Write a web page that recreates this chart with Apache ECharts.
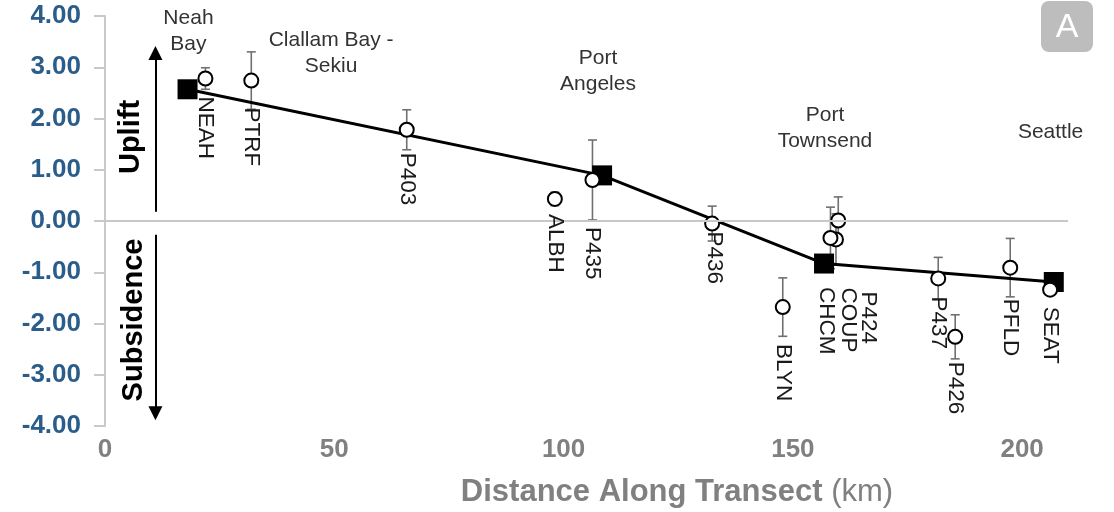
<!DOCTYPE html>
<html>
<head>
<meta charset="utf-8">
<script src="https://cdn.jsdelivr.net/npm/echarts@6.0.0/dist/echarts.min.js"></script>
<style>
  html, body { margin: 0; padding: 0; background: #fff; }
  #chart { width: 1114px; height: 512px; }
</style>
</head>
<body>
<div id="chart"></div>
<script>
// GPS stations: distance along the transect (km), vertical rate (mm/yr) and its error
const stationNames = ['NEAH', 'PTRF', 'P403', 'ALBH', 'P435', 'P436', 'BLYN', 'P424', 'COUP', 'CHCM', 'P437', 'P426', 'PFLD', 'SEAT'];
const stationKm    = [21.9, 31.9, 65.8, 98.1, 106.3, 132.4, 147.8, 159.9, 159.4, 158.2, 181.7, 185.4, 197.4, 206.1];
const stationRate  = [2.78, 2.74, 1.78, 0.43, 0.80, -0.05, -1.68, 0.01, -0.36, -0.33, -1.12, -2.26, -0.91, -1.34];
const stationErr   = [0.21, 0.56, 0.39, 0.13, 0.78, 0.34, 0.57, 0.46, 0.50, 0.60, 0.41, 0.43, 0.57, 0.10];

// Town averages joined by the profile line
const townNames = ['Neah Bay', 'Port Angeles', 'Port Townsend', 'Seattle'];
const townKm    = [18.0, 108.4, 156.8, 206.9];
const townRate  = [2.57, 0.89, -0.83, -1.19];

// Place names written above the profile
const placeNames = ['Neah\nBay', 'Clallam Bay -\nSekiu', 'Port\nAngeles', 'Port\nTownsend', 'Seattle'];
const placeKm    = [18.2, 49.3, 107.5, 157.0, 206.2];

// Axis ticks
const xTicks = [0, 50, 100, 150, 200];
const yTicks = [-4, -3, -2, -1, 0, 1, 2, 3, 4];

// ---- layout (pixels / label anchors) ----
const placeLevel = [3.70, 3.28, 2.93, 1.82, 1.74];       // vertical centre of each place name, in axis units
const stationLabelShift = [                              // [dx, dy] from marker centre to label start
  [0, 18], [0, 27], [0, 23], [0, 15], [0, 47], [2, 8], [0, 37],
  [30, 71], [12, 48], [-4, 49], [0, 18], [0, 25], [0, 31], [0, 17]
];
const FONT = '"Liberation Sans", Arial, Helvetica, sans-serif';

const chart = echarts.init(document.getElementById('chart'), null, { renderer: 'canvas' });

const stationData = stationKm.map((k, i) => [k, stationRate[i], stationErr[i], i]);
const townData = townKm.map((k, i) => [k, townRate[i]]);
const placeData = placeKm.map((k, i) => [k, placeLevel[i], i]);

chart.setOption({
  animation: false,
  backgroundColor: '#ffffff',
  grid: { left: 105, right: 46, top: 16, bottom: 86, outerBoundsMode: 'none' },
  xAxis: {
    type: 'value',
    min: xTicks[0],
    max: 210,
    interval: 50,
    axisLine: { show: false, onZero: false },
    axisTick: { show: false },
    splitLine: { show: false },
    axisLabel: {
      showMaxLabel: false,
      margin: 11,
      color: '#808080',
      fontFamily: FONT,
      fontWeight: 'bold',
      fontSize: 26,
      formatter: v => (xTicks.indexOf(v) >= 0 ? String(v) : '')
    }
  },
  yAxis: {
    type: 'value',
    min: yTicks[0],
    max: yTicks[yTicks.length - 1],
    interval: 1,
    axisLine: { show: true, onZero: false, lineStyle: { color: '#c9c9c9', width: 2 } },
    axisTick: { show: true, length: 11, lineStyle: { color: '#c9c9c9', width: 2 } },
    splitLine: { show: false },
    axisLabel: {
      margin: 24,
      color: '#2b5d8b',
      fontFamily: FONT,
      fontWeight: 'bold',
      fontSize: 26,
      formatter: v => v.toFixed(2)
    }
  },
  graphic: [
    {
      type: 'text', x: 131, y: 137, rotation: Math.PI / 2,
      style: { text: 'Uplift', font: 'bold 29px ' + FONT, fill: '#000', align: 'center', verticalAlign: 'middle' }
    },
    {
      type: 'text', x: 134, y: 320, rotation: Math.PI / 2,
      style: { text: 'Subsidence', font: 'bold 29px ' + FONT, fill: '#000', align: 'center', verticalAlign: 'middle' }
    },
    {
      type: 'text', x: 677, y: 492,
      style: {
        text: '{b|Distance Along Transect}{n| (km)}',
        align: 'center', verticalAlign: 'middle',
        rich: {
          b: { font: 'bold 31px ' + FONT, fill: '#808080' },
          n: { font: '31px ' + FONT, fill: '#808080' }
        }
      }
    },
    {
      type: 'group', left: 1041, top: 1,
      children: [
        { type: 'rect', shape: { x: 0, y: 0, width: 52, height: 51, r: 8 }, style: { fill: '#bdbdbd' } },
        { type: 'text', x: 26, y: 27, style: { text: 'A', font: '34px ' + FONT, fill: '#ffffff', align: 'center', verticalAlign: 'middle' } }
      ]
    }
  ],
  series: [
    // zero line and the uplift / subsidence arrows
    {
      type: 'line',
      data: [],
      silent: true,
      markLine: {
        silent: true,
        animation: false,
        label: { show: false },
        data: [
          [
            { coord: [0, 0], symbol: 'none', lineStyle: { color: '#c8c8c8', width: 2, type: 'solid' } },
            { coord: [210, 0], symbol: 'none' }
          ],
          [
            { coord: [11, 0.18], symbol: 'none', lineStyle: { color: '#000', width: 2, type: 'solid' } },
            { coord: [11, 3.28], symbol: 'triangle', symbolSize: 14 }
          ],
          [
            { coord: [11, -0.27], symbol: 'none', lineStyle: { color: '#000', width: 2, type: 'solid' } },
            { coord: [11, -3.75], symbol: 'triangle', symbolSize: 14 }
          ]
        ]
      }
    },
    // error bars
    {
      type: 'custom',
      z: 2,
      silent: true,
      data: stationData,
      renderItem: (params, api) => {
        const x = api.value(0), y = api.value(1), e = api.value(2);
        const t = api.coord([x, y + e]);
        const b = api.coord([x, y - e]);
        const c = 4.5;
        const st = { stroke: '#707070', lineWidth: 1.6 };
        return {
          type: 'group',
          children: [
            { type: 'line', shape: { x1: t[0], y1: t[1], x2: b[0], y2: b[1] }, style: st },
            { type: 'line', shape: { x1: t[0] - c, y1: t[1], x2: t[0] + c, y2: t[1] }, style: st },
            { type: 'line', shape: { x1: b[0] - c, y1: b[1], x2: b[0] + c, y2: b[1] }, style: st }
          ]
        };
      }
    },
    // profile through the town averages
    {
      type: 'line',
      name: 'Towns',
      z: 3,
      data: townData,
      symbol: 'rect',
      symbolSize: 20,
      itemStyle: { color: '#000' },
      lineStyle: { color: '#000', width: 3 }
    },
    // station markers
    {
      type: 'scatter',
      name: 'Stations',
      z: 4,
      data: stationData,
      symbol: 'circle',
      symbolSize: 14,
      itemStyle: { color: '#ffffff', borderColor: '#000', borderWidth: 2, opacity: 1 }
    },
    // station names, written top to bottom
    {
      type: 'custom',
      z: 5,
      silent: true,
      data: stationData,
      renderItem: (params, api) => {
        const i = api.value(3);
        const p = api.coord([api.value(0), api.value(1)]);
        const s = stationLabelShift[i];
        return {
          type: 'text',
          x: p[0] + s[0],
          y: p[1] + s[1],
          rotation: -Math.PI / 2,
          style: { text: stationNames[i], font: '22.5px ' + FONT, fill: '#1a1a1a', align: 'left', verticalAlign: 'middle' }
        };
      }
    },
    // place names
    {
      type: 'custom',
      z: 5,
      silent: true,
      data: placeData,
      renderItem: (params, api) => {
        const i = api.value(2);
        const p = api.coord([api.value(0), api.value(1)]);
        return {
          type: 'text',
          x: p[0],
          y: p[1],
          style: { text: placeNames[i], font: '21px ' + FONT, lineHeight: 26, fill: '#333', align: 'center', verticalAlign: 'middle' }
        };
      }
    }
  ]
});
</script>
</body>
</html>
